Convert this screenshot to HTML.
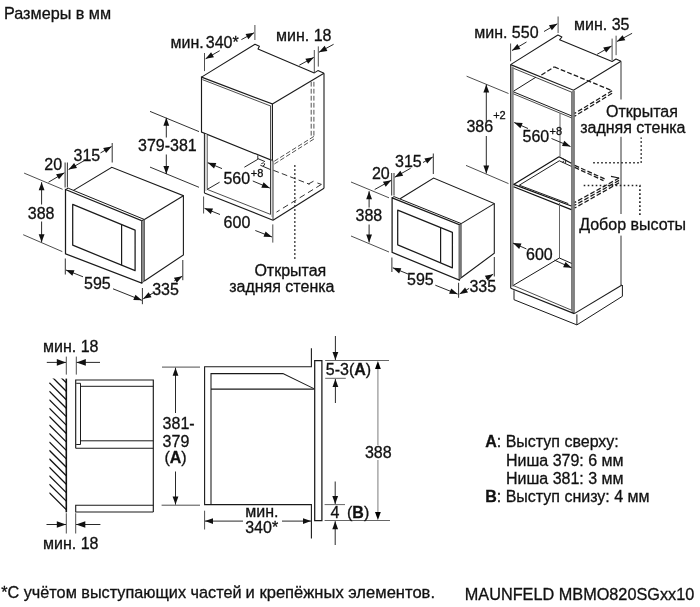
<!DOCTYPE html>
<html><head><meta charset="utf-8"><title>Размеры</title>
<style>
html,body{margin:0;padding:0;background:#fff;}
body{width:700px;height:607px;overflow:hidden;font-family:"Liberation Sans",sans-serif;}
svg{display:block;will-change:transform;transform:translateZ(0);}
svg text{font-family:"Liberation Sans",sans-serif;stroke:#111;stroke-width:0.3px;}
</style></head><body>
<svg width="700" height="607" viewBox="0 0 700 607">
<rect width="700" height="607" fill="#fff"/>
<text x="4.0" y="19.2" font-size="16.2" text-anchor="start" font-weight="normal" fill="#111">Размеры в мм</text>
<polygon points="65.5,189.5 141.7,220.6 141.7,283.2 65.5,253.8" fill="none" stroke="#1a1a1a" stroke-width="1.25" stroke-linejoin="miter"/>
<line x1="143.0" y1="220.2" x2="143.0" y2="282.0" stroke="#8c8c8c" stroke-width="2.7" stroke-linecap="butt"/>
<polyline points="65.5,189.5 68.2,188.2 144.4,219.5 141.7,220.6" fill="none" stroke="#1a1a1a" stroke-width="1.0" stroke-linejoin="miter"/>
<polyline points="144.4,219.5 144.4,281.0 141.7,283.2" fill="none" stroke="#3a3a3a" stroke-width="0.8" stroke-linejoin="miter"/>
<polyline points="73.5,190.4 111.8,167.3 183.4,195.7 183.4,255.0 144.4,281.0" fill="none" stroke="#1a1a1a" stroke-width="1.1" stroke-linejoin="miter"/>
<line x1="183.4" y1="195.7" x2="144.4" y2="219.5" stroke="#1a1a1a" stroke-width="1.1" stroke-linecap="butt"/>
<polygon points="72.7,204.4 135.1,230.1 135.1,270.7 72.7,245.2" fill="none" stroke="#1a1a1a" stroke-width="1.25" stroke-linejoin="round"/>
<line x1="121.6" y1="224.5" x2="121.6" y2="265.2" stroke="#1a1a1a" stroke-width="1.2" stroke-linecap="butt"/>
<line x1="65.1" y1="162.5" x2="65.1" y2="187.5" stroke="#1a1a1a" stroke-width="0.9" stroke-linecap="butt"/>
<line x1="67.4" y1="162.5" x2="67.4" y2="187.5" stroke="#1a1a1a" stroke-width="0.9" stroke-linecap="butt"/>
<line x1="48.5" y1="182.2" x2="64.4" y2="172.8" stroke="#111" stroke-width="0.9" stroke-linecap="butt"/>
<polygon points="64.40,172.80 58.99,179.37 56.04,174.37" fill="#111" stroke="none"/>
<line x1="86.6" y1="159.3" x2="68.6" y2="169.5" stroke="#111" stroke-width="0.9" stroke-linecap="butt"/>
<polygon points="68.60,169.50 74.13,163.03 76.99,168.08" fill="#111" stroke="none"/>
<line x1="112.2" y1="143.0" x2="112.2" y2="162.5" stroke="#1a1a1a" stroke-width="0.9" stroke-linecap="butt"/>
<line x1="100.5" y1="152.9" x2="111.6" y2="146.6" stroke="#111" stroke-width="0.9" stroke-linecap="butt"/>
<polygon points="111.60,146.60 106.07,153.07 103.21,148.03" fill="#111" stroke="none"/>
<text x="44.3" y="170.0" font-size="16" text-anchor="start" font-weight="normal" fill="#111">20</text>
<text x="73.5" y="161.4" font-size="16" text-anchor="start" font-weight="normal" fill="#111">315</text>
<line x1="24.1" y1="173.1" x2="62.6" y2="189.3" stroke="#3a3a3a" stroke-width="0.9" stroke-linecap="butt"/>
<line x1="23.2" y1="234.7" x2="62.3" y2="251.6" stroke="#3a3a3a" stroke-width="0.9" stroke-linecap="butt"/>
<line x1="41.6" y1="204.5" x2="41.6" y2="182.2" stroke="#111" stroke-width="0.9" stroke-linecap="butt"/>
<polygon points="41.60,182.20 44.50,190.20 38.70,190.20" fill="#111" stroke="none"/>
<line x1="41.6" y1="221.5" x2="41.6" y2="242.2" stroke="#111" stroke-width="0.9" stroke-linecap="butt"/>
<polygon points="41.60,242.20 38.70,234.20 44.50,234.20" fill="#111" stroke="none"/>
<text x="27.8" y="219.3" font-size="16" text-anchor="start" font-weight="normal" fill="#111">388</text>
<line x1="65.3" y1="258.5" x2="65.3" y2="274.5" stroke="#1a1a1a" stroke-width="0.9" stroke-linecap="butt"/>
<line x1="142.4" y1="288.0" x2="142.4" y2="304.2" stroke="#1a1a1a" stroke-width="0.9" stroke-linecap="butt"/>
<line x1="83.0" y1="276.8" x2="66.0" y2="270.0" stroke="#111" stroke-width="0.9" stroke-linecap="butt"/>
<polygon points="66.00,270.00 74.50,270.28 72.35,275.66" fill="#111" stroke="none"/>
<line x1="113.0" y1="288.8" x2="141.8" y2="300.3" stroke="#111" stroke-width="0.9" stroke-linecap="butt"/>
<polygon points="141.80,300.30 133.29,300.03 135.45,294.64" fill="#111" stroke="none"/>
<text x="84.0" y="289.0" font-size="16" text-anchor="start" font-weight="normal" fill="#111">595</text>
<line x1="153.0" y1="293.0" x2="143.2" y2="298.8" stroke="#111" stroke-width="0.9" stroke-linecap="butt"/>
<polygon points="143.20,298.80 148.61,292.23 151.56,297.22" fill="#111" stroke="none"/>
<line x1="174.3" y1="280.8" x2="182.3" y2="276.2" stroke="#111" stroke-width="0.9" stroke-linecap="butt"/>
<polygon points="182.30,276.20 176.81,282.70 173.92,277.67" fill="#111" stroke="none"/>
<line x1="182.8" y1="260.0" x2="182.8" y2="280.2" stroke="#1a1a1a" stroke-width="0.9" stroke-linecap="butt"/>
<text x="152.2" y="295.2" font-size="16" text-anchor="start" font-weight="normal" fill="#111">335</text>
<line x1="150.0" y1="111.4" x2="199.0" y2="131.6" stroke="#1a1a1a" stroke-width="0.9" stroke-linecap="butt"/>
<line x1="150.0" y1="167.1" x2="199.0" y2="187.3" stroke="#1a1a1a" stroke-width="0.9" stroke-linecap="butt"/>
<line x1="166.3" y1="137.5" x2="166.3" y2="117.8" stroke="#111" stroke-width="0.9" stroke-linecap="butt"/>
<polygon points="166.30,117.80 169.20,125.80 163.40,125.80" fill="#111" stroke="none"/>
<line x1="166.3" y1="154.5" x2="166.3" y2="174.0" stroke="#111" stroke-width="0.9" stroke-linecap="butt"/>
<polygon points="166.30,174.00 163.40,166.00 169.20,166.00" fill="#111" stroke="none"/>
<text x="138.0" y="151.2" font-size="16" text-anchor="start" font-weight="normal" fill="#111">379-381</text>
<polyline points="201.5,77.1 255.0,44.3 259.4,46.3 258.0,48.9 314.3,72.9 317.9,70.6 324.0,73.2" fill="none" stroke="#1a1a1a" stroke-width="1.1" stroke-linejoin="round"/>
<polygon points="201.5,77.1 272.4,104.0 272.4,160.6 201.5,132.1" fill="none" stroke="#1a1a1a" stroke-width="1.15" stroke-linejoin="miter"/>
<line x1="202.4" y1="79.6" x2="270.6" y2="106.0" stroke="#3a3a3a" stroke-width="0.9" stroke-linecap="butt"/>
<line x1="270.5" y1="105.6" x2="270.5" y2="159.8" stroke="#3a3a3a" stroke-width="0.9" stroke-linecap="butt"/>
<line x1="272.4" y1="104.0" x2="324.0" y2="73.2" stroke="#1a1a1a" stroke-width="1.1" stroke-linecap="butt"/>
<line x1="324.0" y1="73.2" x2="324.0" y2="188.2" stroke="#1a1a1a" stroke-width="1.1" stroke-linecap="butt"/>
<line x1="204.4" y1="133.4" x2="204.4" y2="193.0" stroke="#1a1a1a" stroke-width="1.0" stroke-linecap="butt"/>
<line x1="207.2" y1="134.6" x2="207.2" y2="189.4" stroke="#3a3a3a" stroke-width="0.9" stroke-linecap="butt"/>
<line x1="205.8" y1="134.0" x2="205.8" y2="191.0" stroke="#d2d2d2" stroke-width="1.6" stroke-linecap="butt"/>
<line x1="204.4" y1="193.0" x2="273.0" y2="220.2" stroke="#1a1a1a" stroke-width="1.1" stroke-linecap="butt"/>
<line x1="207.2" y1="189.4" x2="270.5" y2="214.4" stroke="#3a3a3a" stroke-width="0.9" stroke-linecap="butt"/>
<line x1="207.2" y1="189.4" x2="219.6" y2="182.2" stroke="#1a1a1a" stroke-width="0.95" stroke-linecap="butt"/>
<line x1="271.8" y1="160.4" x2="271.8" y2="217.0" stroke="#d2d2d2" stroke-width="1.3" stroke-linecap="butt"/>
<line x1="273.0" y1="160.6" x2="273.0" y2="220.2" stroke="#3a3a3a" stroke-width="1.0" stroke-linecap="butt"/>
<line x1="270.5" y1="159.8" x2="270.5" y2="214.4" stroke="#3a3a3a" stroke-width="1.0" stroke-linecap="butt"/>
<line x1="273.0" y1="220.2" x2="324.0" y2="188.2" stroke="#1a1a1a" stroke-width="1.1" stroke-linecap="butt"/>
<polyline points="257.8,155.3 257.8,159.3 244.4,167.2" fill="none" stroke="#1a1a1a" stroke-width="0.95" stroke-linejoin="miter"/>
<polyline points="257.8,158.6 265.0,161.6" fill="none" stroke="#1a1a1a" stroke-width="0.95" stroke-linejoin="miter"/>
<line x1="260.3" y1="165.2" x2="270.5" y2="169.6" stroke="#1a1a1a" stroke-width="0.95" stroke-linecap="butt"/>
<path d="M261.3,163.6 q2.6,-1.6 3.4,0.2 q0.2,1.8 -1.8,1.9" fill="none" stroke="#1a1a1a" stroke-width="0.9"/>
<line x1="311.2" y1="81.8" x2="311.2" y2="136.4" stroke="#4a4a4a" stroke-width="0.95" stroke-dasharray="4.8 2.2" stroke-linecap="butt"/>
<line x1="313.9" y1="81.8" x2="313.9" y2="136.4" stroke="#4a4a4a" stroke-width="0.95" stroke-dasharray="4.8 2.2" stroke-linecap="butt"/>
<line x1="313.9" y1="136.4" x2="274.0" y2="161.4" stroke="#4a4a4a" stroke-width="0.95" stroke-dasharray="4.8 2.2" stroke-linecap="butt"/>
<line x1="313.9" y1="139.0" x2="274.0" y2="164.2" stroke="#4a4a4a" stroke-width="0.95" stroke-dasharray="4.8 2.2" stroke-linecap="butt"/>
<line x1="273.4" y1="170.3" x2="309.6" y2="184.3" stroke="#333" stroke-width="1.0" stroke-dasharray="5.8 3.2" stroke-linecap="butt"/>
<line x1="308.4" y1="184.0" x2="313.5" y2="181.2" stroke="#333" stroke-width="1.0" stroke-linecap="butt"/>
<line x1="317.4" y1="183.0" x2="321.4" y2="184.4" stroke="#333" stroke-width="1.0" stroke-linecap="butt"/>
<line x1="321.4" y1="184.4" x2="276.5" y2="212.1" stroke="#333" stroke-width="1.0" stroke-dasharray="6 3.8" stroke-linecap="butt"/>
<line x1="294.8" y1="165.2" x2="294.8" y2="259.5" stroke="#222" stroke-width="1.6" stroke-dasharray="1.6 2.4" stroke-linecap="butt"/>
<line x1="204.5" y1="53.0" x2="204.5" y2="71.1" stroke="#3a3a3a" stroke-width="0.9" stroke-linecap="butt"/>
<line x1="254.9" y1="25.0" x2="254.9" y2="40.0" stroke="#3a3a3a" stroke-width="0.9" stroke-linecap="butt"/>
<line x1="219.7" y1="50.7" x2="205.6" y2="58.8" stroke="#111" stroke-width="0.9" stroke-linecap="butt"/>
<polygon points="205.60,58.80 211.09,52.30 213.98,57.33" fill="#111" stroke="none"/>
<line x1="241.4" y1="39.6" x2="254.0" y2="32.8" stroke="#111" stroke-width="0.9" stroke-linecap="butt"/>
<polygon points="254.00,32.80 248.34,39.15 245.58,34.05" fill="#111" stroke="none"/>
<text x="170.6" y="47.6" font-size="16" text-anchor="start" font-weight="normal" fill="#111">мин.</text>
<text x="205.8" y="47.6" font-size="16" text-anchor="start" font-weight="normal" fill="#111">340*</text>
<line x1="314.3" y1="50.0" x2="314.3" y2="72.0" stroke="#3a3a3a" stroke-width="0.9" stroke-linecap="butt"/>
<line x1="318.3" y1="46.4" x2="318.3" y2="66.6" stroke="#3a3a3a" stroke-width="0.9" stroke-linecap="butt"/>
<line x1="299.3" y1="65.2" x2="313.8" y2="57.4" stroke="#111" stroke-width="0.9" stroke-linecap="butt"/>
<polygon points="313.80,57.40 308.13,63.74 305.38,58.64" fill="#111" stroke="none"/>
<line x1="333.6" y1="44.3" x2="319.0" y2="52.2" stroke="#111" stroke-width="0.9" stroke-linecap="butt"/>
<polygon points="319.00,52.20 324.66,45.84 327.42,50.94" fill="#111" stroke="none"/>
<text x="276.0" y="41.0" font-size="16" text-anchor="start" font-weight="normal" fill="#111">мин. 18</text>
<line x1="222.0" y1="168.6" x2="207.8" y2="162.7" stroke="#111" stroke-width="0.9" stroke-linecap="butt"/>
<polygon points="207.80,162.70 216.30,163.09 214.07,168.45" fill="#111" stroke="none"/>
<line x1="252.8" y1="181.0" x2="269.8" y2="188.1" stroke="#111" stroke-width="0.9" stroke-linecap="butt"/>
<polygon points="269.80,188.10 261.30,187.69 263.54,182.34" fill="#111" stroke="none"/>
<text x="223.4" y="183.6" font-size="16" text-anchor="start" font-weight="normal" fill="#111">560</text>
<text x="250.8" y="177.4" font-size="11" text-anchor="start" font-weight="normal" fill="#111">+8</text>
<line x1="203.6" y1="196.5" x2="203.6" y2="213.5" stroke="#3a3a3a" stroke-width="0.9" stroke-linecap="butt"/>
<line x1="272.8" y1="224.4" x2="272.8" y2="242.6" stroke="#3a3a3a" stroke-width="0.9" stroke-linecap="butt"/>
<line x1="220.0" y1="214.5" x2="204.5" y2="208.3" stroke="#111" stroke-width="0.9" stroke-linecap="butt"/>
<polygon points="204.50,208.30 213.00,208.58 210.85,213.96" fill="#111" stroke="none"/>
<line x1="255.3" y1="230.5" x2="272.0" y2="237.0" stroke="#111" stroke-width="0.9" stroke-linecap="butt"/>
<polygon points="272.00,237.00 263.49,236.80 265.60,231.40" fill="#111" stroke="none"/>
<text x="223.6" y="228.4" font-size="16" text-anchor="start" font-weight="normal" fill="#111">600</text>
<text x="254.4" y="276.2" font-size="16" text-anchor="start" font-weight="normal" fill="#111">Открытая</text>
<text x="229.2" y="291.6" font-size="16" text-anchor="start" font-weight="normal" fill="#111">задняя стенка</text>
<polygon points="392.1,197.9 459.3,224.7 459.3,280.0 392.1,252.4" fill="none" stroke="#1a1a1a" stroke-width="1.25" stroke-linejoin="miter"/>
<line x1="460.2" y1="224.3" x2="460.2" y2="278.8" stroke="#8c8c8c" stroke-width="1.9" stroke-linecap="butt"/>
<polyline points="392.1,197.9 394.0,196.6 461.2,223.6 459.3,224.7" fill="none" stroke="#1a1a1a" stroke-width="1.0" stroke-linejoin="miter"/>
<polyline points="461.2,223.6 461.2,277.8 459.3,280.0" fill="none" stroke="#3a3a3a" stroke-width="0.8" stroke-linejoin="miter"/>
<polyline points="400.1,198.8 433.6,178.0 494.3,203.6 494.3,253.2 461.2,277.8" fill="none" stroke="#1a1a1a" stroke-width="1.1" stroke-linejoin="miter"/>
<line x1="494.3" y1="203.6" x2="461.2" y2="223.6" stroke="#1a1a1a" stroke-width="1.1" stroke-linecap="butt"/>
<polygon points="397.7,210.2 452.4,232.4 452.4,267.8 397.7,244.8" fill="none" stroke="#1a1a1a" stroke-width="1.25" stroke-linejoin="round"/>
<line x1="440.6" y1="227.6" x2="440.6" y2="262.8" stroke="#1a1a1a" stroke-width="1.2" stroke-linecap="butt"/>
<line x1="391.7" y1="173.0" x2="391.7" y2="195.5" stroke="#1a1a1a" stroke-width="0.9" stroke-linecap="butt"/>
<line x1="394.0" y1="173.0" x2="394.0" y2="195.5" stroke="#1a1a1a" stroke-width="0.9" stroke-linecap="butt"/>
<line x1="374.7" y1="189.5" x2="391.3" y2="180.3" stroke="#111" stroke-width="0.9" stroke-linecap="butt"/>
<polygon points="391.30,180.30 385.71,186.71 382.90,181.64" fill="#111" stroke="none"/>
<line x1="410.6" y1="168.3" x2="394.8" y2="177.2" stroke="#111" stroke-width="0.9" stroke-linecap="butt"/>
<polygon points="394.80,177.20 400.35,170.75 403.19,175.80" fill="#111" stroke="none"/>
<line x1="433.3" y1="153.5" x2="433.3" y2="174.0" stroke="#1a1a1a" stroke-width="0.9" stroke-linecap="butt"/>
<line x1="423.0" y1="162.5" x2="432.8" y2="157.0" stroke="#111" stroke-width="0.9" stroke-linecap="butt"/>
<polygon points="432.80,157.00 427.24,163.44 424.40,158.39" fill="#111" stroke="none"/>
<text x="371.9" y="178.5" font-size="16" text-anchor="start" font-weight="normal" fill="#111">20</text>
<text x="395.0" y="167.0" font-size="16" text-anchor="start" font-weight="normal" fill="#111">315</text>
<line x1="351.0" y1="182.0" x2="389.0" y2="197.8" stroke="#3a3a3a" stroke-width="0.9" stroke-linecap="butt"/>
<line x1="351.0" y1="236.0" x2="389.0" y2="252.0" stroke="#3a3a3a" stroke-width="0.9" stroke-linecap="butt"/>
<line x1="369.1" y1="207.5" x2="369.1" y2="191.2" stroke="#111" stroke-width="0.9" stroke-linecap="butt"/>
<polygon points="369.10,191.20 372.00,199.20 366.20,199.20" fill="#111" stroke="none"/>
<line x1="369.1" y1="224.5" x2="369.1" y2="242.5" stroke="#111" stroke-width="0.9" stroke-linecap="butt"/>
<polygon points="369.10,242.50 366.20,234.50 372.00,234.50" fill="#111" stroke="none"/>
<text x="355.5" y="221.2" font-size="16" text-anchor="start" font-weight="normal" fill="#111">388</text>
<line x1="391.9" y1="257.5" x2="391.9" y2="272.0" stroke="#1a1a1a" stroke-width="0.9" stroke-linecap="butt"/>
<line x1="458.6" y1="282.8" x2="458.6" y2="297.8" stroke="#1a1a1a" stroke-width="0.9" stroke-linecap="butt"/>
<line x1="408.0" y1="274.0" x2="392.8" y2="267.8" stroke="#111" stroke-width="0.9" stroke-linecap="butt"/>
<polygon points="392.80,267.80 401.30,268.14 399.11,273.51" fill="#111" stroke="none"/>
<line x1="435.3" y1="285.2" x2="457.6" y2="294.1" stroke="#111" stroke-width="0.9" stroke-linecap="butt"/>
<polygon points="457.60,294.10 449.09,293.83 451.24,288.44" fill="#111" stroke="none"/>
<text x="407.0" y="285.3" font-size="16" text-anchor="start" font-weight="normal" fill="#111">595</text>
<line x1="469.1" y1="288.4" x2="459.6" y2="293.9" stroke="#111" stroke-width="0.9" stroke-linecap="butt"/>
<polygon points="459.60,293.90 465.07,287.38 467.98,292.40" fill="#111" stroke="none"/>
<line x1="485.8" y1="278.5" x2="493.2" y2="274.2" stroke="#111" stroke-width="0.9" stroke-linecap="butt"/>
<polygon points="493.20,274.20 487.74,280.73 484.83,275.71" fill="#111" stroke="none"/>
<line x1="494.3" y1="257.0" x2="494.3" y2="276.5" stroke="#1a1a1a" stroke-width="0.9" stroke-linecap="butt"/>
<text x="469.4" y="292.4" font-size="16" text-anchor="start" font-weight="normal" fill="#111">335</text>
<polyline points="510.6,64.6 557.9,35.0 561.9,37.0 559.6,39.8 612.1,61.5 616.0,59.0 621.0,61.2" fill="none" stroke="#1a1a1a" stroke-width="1.1" stroke-linejoin="round"/>
<polyline points="510.6,64.6 573.5,90.2 621.0,61.3" fill="none" stroke="#1a1a1a" stroke-width="1.15" stroke-linejoin="miter"/>
<line x1="512.8" y1="68.0" x2="571.7" y2="92.2" stroke="#3a3a3a" stroke-width="0.95" stroke-linecap="butt"/>
<line x1="512.6" y1="66.5" x2="512.6" y2="286.5" stroke="#8a8a8a" stroke-width="2.2" stroke-linecap="butt"/>
<line x1="510.7" y1="64.6" x2="510.7" y2="288.3" stroke="#1a1a1a" stroke-width="1.1" stroke-linecap="butt"/>
<line x1="573.0" y1="91.0" x2="573.0" y2="313.0" stroke="#8a8a8a" stroke-width="2.9" stroke-linecap="butt"/>
<line x1="574.3" y1="90.6" x2="574.3" y2="313.6" stroke="#3a3a3a" stroke-width="0.6" stroke-linecap="butt"/>
<line x1="571.6" y1="92.0" x2="571.6" y2="310.2" stroke="#3a3a3a" stroke-width="0.6" stroke-linecap="butt"/>
<line x1="621.0" y1="61.3" x2="621.0" y2="99.5" stroke="#333" stroke-width="1.0" stroke-linecap="butt"/>
<line x1="621.0" y1="136.8" x2="621.0" y2="214.0" stroke="#333" stroke-width="1.0" stroke-linecap="butt"/>
<line x1="621.0" y1="235.6" x2="621.0" y2="285.0" stroke="#333" stroke-width="1.0" stroke-linecap="butt"/>
<line x1="513.3" y1="91.8" x2="571.6" y2="115.9" stroke="#1a1a1a" stroke-width="1.0" stroke-linecap="butt"/>
<line x1="513.3" y1="93.8" x2="571.6" y2="117.9" stroke="#3a3a3a" stroke-width="0.9" stroke-linecap="butt"/>
<line x1="513.8" y1="91.0" x2="535.9" y2="77.2" stroke="#1a1a1a" stroke-width="1.0" stroke-linecap="butt"/>
<line x1="541.4" y1="75.0" x2="554.3" y2="66.9" stroke="#1c1c1c" stroke-width="1.3" stroke-dasharray="4.8 2.2" stroke-linecap="butt"/>
<line x1="554.3" y1="66.9" x2="612.1" y2="90.7" stroke="#1c1c1c" stroke-width="1.3" stroke-dasharray="4.8 2.2" stroke-linecap="butt"/>
<line x1="612.1" y1="90.7" x2="574.6" y2="113.4" stroke="#1c1c1c" stroke-width="1.3" stroke-dasharray="4.8 2.2" stroke-linecap="butt"/>
<line x1="612.1" y1="93.3" x2="574.6" y2="116.2" stroke="#1c1c1c" stroke-width="1.3" stroke-dasharray="4.8 2.2" stroke-linecap="butt"/>
<line x1="560.0" y1="113.2" x2="560.0" y2="156.5" stroke="#666" stroke-width="1.0" stroke-linecap="butt"/>
<line x1="513.6" y1="184.4" x2="571.3" y2="206.0" stroke="#111" stroke-width="1.2" stroke-linecap="butt"/>
<line x1="513.6" y1="186.7" x2="571.3" y2="209.6" stroke="#111" stroke-width="1.2" stroke-linecap="butt"/>
<line x1="519.3" y1="185.2" x2="568.3" y2="203.6" stroke="#222" stroke-width="1.0" stroke-linecap="butt"/>
<line x1="513.6" y1="184.4" x2="559.0" y2="156.7" stroke="#111" stroke-width="1.2" stroke-linecap="butt"/>
<line x1="519.3" y1="185.2" x2="559.3" y2="160.8" stroke="#222" stroke-width="1.0" stroke-linecap="butt"/>
<line x1="559.0" y1="156.7" x2="571.3" y2="163.2" stroke="#111" stroke-width="1.2" stroke-linecap="butt"/>
<line x1="559.3" y1="160.8" x2="571.3" y2="166.3" stroke="#222" stroke-width="1.0" stroke-linecap="butt"/>
<path d="M562.0,158.4 l3.6,1.6 l0,3.2 m-1.4,-2.2 q-1.8,0.2 -1.4,2.0" fill="none" stroke="#1a1a1a" stroke-width="0.9"/>
<line x1="574.7" y1="165.4" x2="604.6" y2="178.9" stroke="#1c1c1c" stroke-width="1.3" stroke-dasharray="4.8 2.2" stroke-linecap="butt"/>
<line x1="574.7" y1="167.4" x2="603.5" y2="180.6" stroke="#1c1c1c" stroke-width="1.3" stroke-dasharray="4.8 2.2" stroke-linecap="butt"/>
<line x1="619.1" y1="178.0" x2="574.7" y2="202.5" stroke="#1c1c1c" stroke-width="1.3" stroke-dasharray="4.8 2.2" stroke-linecap="butt"/>
<line x1="619.1" y1="180.4" x2="574.7" y2="205.2" stroke="#1c1c1c" stroke-width="1.3" stroke-dasharray="4.8 2.2" stroke-linecap="butt"/>
<line x1="619.1" y1="182.8" x2="574.7" y2="208.0" stroke="#1c1c1c" stroke-width="1.3" stroke-dasharray="4.8 2.2" stroke-linecap="butt"/>
<line x1="611.0" y1="176.4" x2="619.1" y2="178.0" stroke="#1c1c1c" stroke-width="1.2" stroke-linecap="butt"/>
<line x1="559.5" y1="203.0" x2="559.5" y2="258.0" stroke="#666" stroke-width="1.0" stroke-linecap="butt"/>
<line x1="513.3" y1="285.4" x2="559.4" y2="258.0" stroke="#1a1a1a" stroke-width="1.0" stroke-linecap="butt"/>
<line x1="559.4" y1="258.0" x2="571.6" y2="263.4" stroke="#1a1a1a" stroke-width="1.0" stroke-linecap="butt"/>
<line x1="510.7" y1="288.3" x2="574.3" y2="313.6" stroke="#1a1a1a" stroke-width="1.15" stroke-linecap="butt"/>
<line x1="513.3" y1="285.5" x2="571.6" y2="310.2" stroke="#3a3a3a" stroke-width="0.9" stroke-linecap="butt"/>
<line x1="574.3" y1="313.6" x2="622.0" y2="285.0" stroke="#1a1a1a" stroke-width="1.1" stroke-linecap="butt"/>
<polyline points="514.0,290.3 514.0,299.7 576.9,324.9 622.4,296.3 622.4,285.0" fill="none" stroke="#1a1a1a" stroke-width="1.0" stroke-linejoin="miter"/>
<line x1="576.9" y1="314.4" x2="576.9" y2="324.9" stroke="#1a1a1a" stroke-width="1.0" stroke-linecap="butt"/>
<polyline points="593.2,162.8 641.2,162.8 641.2,137.6" fill="none" stroke="#222" stroke-width="1.6" stroke-dasharray="1.6 2.4" stroke-linejoin="miter"/>
<polyline points="583.7,185.5 639.9,185.5 639.9,215.6" fill="none" stroke="#222" stroke-width="1.6" stroke-dasharray="1.6 2.4" stroke-linejoin="miter"/>
<line x1="510.6" y1="43.5" x2="510.6" y2="61.3" stroke="#3a3a3a" stroke-width="0.9" stroke-linecap="butt"/>
<line x1="558.1" y1="16.5" x2="558.1" y2="33.0" stroke="#3a3a3a" stroke-width="0.9" stroke-linecap="butt"/>
<line x1="526.5" y1="42.0" x2="512.0" y2="50.5" stroke="#111" stroke-width="0.9" stroke-linecap="butt"/>
<polygon points="512.00,50.50 517.43,43.95 520.37,48.96" fill="#111" stroke="none"/>
<line x1="544.0" y1="31.5" x2="557.3" y2="23.8" stroke="#111" stroke-width="0.9" stroke-linecap="butt"/>
<polygon points="557.30,23.80 551.83,30.32 548.92,25.30" fill="#111" stroke="none"/>
<text x="474.2" y="38.0" font-size="16" text-anchor="start" font-weight="normal" fill="#111">мин. 550</text>
<line x1="612.1" y1="38.6" x2="612.1" y2="60.2" stroke="#3a3a3a" stroke-width="0.9" stroke-linecap="butt"/>
<line x1="616.1" y1="35.7" x2="616.1" y2="55.2" stroke="#3a3a3a" stroke-width="0.9" stroke-linecap="butt"/>
<line x1="597.1" y1="54.3" x2="611.6" y2="46.0" stroke="#111" stroke-width="0.9" stroke-linecap="butt"/>
<polygon points="611.60,46.00 606.10,52.49 603.22,47.46" fill="#111" stroke="none"/>
<line x1="632.1" y1="33.3" x2="616.9" y2="41.5" stroke="#111" stroke-width="0.9" stroke-linecap="butt"/>
<polygon points="616.90,41.50 622.56,35.15 625.32,40.25" fill="#111" stroke="none"/>
<text x="574.0" y="30.3" font-size="16" text-anchor="start" font-weight="normal" fill="#111">мин. 35</text>
<line x1="466.6" y1="76.2" x2="508.5" y2="93.5" stroke="#3a3a3a" stroke-width="0.9" stroke-linecap="butt"/>
<line x1="466.0" y1="165.4" x2="508.5" y2="183.6" stroke="#3a3a3a" stroke-width="0.9" stroke-linecap="butt"/>
<line x1="486.3" y1="121.5" x2="486.3" y2="84.6" stroke="#111" stroke-width="0.9" stroke-linecap="butt"/>
<polygon points="486.30,84.60 489.20,92.60 483.40,92.60" fill="#111" stroke="none"/>
<line x1="486.3" y1="136.0" x2="486.3" y2="173.4" stroke="#111" stroke-width="0.9" stroke-linecap="butt"/>
<polygon points="486.30,173.40 483.40,165.40 489.20,165.40" fill="#111" stroke="none"/>
<text x="466.4" y="131.6" font-size="16" text-anchor="start" font-weight="normal" fill="#111">386</text>
<text x="493.2" y="119.3" font-size="11" text-anchor="start" font-weight="normal" fill="#111">+2</text>
<line x1="528.0" y1="128.5" x2="514.2" y2="122.5" stroke="#111" stroke-width="0.9" stroke-linecap="butt"/>
<polygon points="514.20,122.50 522.69,123.03 520.38,128.35" fill="#111" stroke="none"/>
<line x1="551.5" y1="138.5" x2="570.5" y2="146.5" stroke="#111" stroke-width="0.9" stroke-linecap="butt"/>
<polygon points="570.50,146.50 562.00,146.07 564.25,140.72" fill="#111" stroke="none"/>
<text x="522.5" y="141.5" font-size="16" text-anchor="start" font-weight="normal" fill="#111">560</text>
<text x="549.5" y="135.0" font-size="11" text-anchor="start" font-weight="normal" fill="#111">+8</text>
<line x1="526.4" y1="248.9" x2="513.0" y2="243.1" stroke="#111" stroke-width="0.9" stroke-linecap="butt"/>
<polygon points="513.00,243.10 521.49,243.62 519.19,248.94" fill="#111" stroke="none"/>
<line x1="554.4" y1="260.1" x2="571.6" y2="267.8" stroke="#111" stroke-width="0.9" stroke-linecap="butt"/>
<polygon points="571.60,267.80 563.11,267.18 565.48,261.88" fill="#111" stroke="none"/>
<text x="526.0" y="260.0" font-size="16" text-anchor="start" font-weight="normal" fill="#111">600</text>
<text x="606.0" y="116.6" font-size="16" text-anchor="start" font-weight="normal" fill="#111">Открытая</text>
<text x="580.2" y="133.0" font-size="16" text-anchor="start" font-weight="normal" fill="#111">задняя стенка</text>
<text x="579.2" y="230.0" font-size="16" text-anchor="start" font-weight="normal" fill="#111">Добор высоты</text>
<line x1="66.3" y1="378.6" x2="66.3" y2="512.3" stroke="#111" stroke-width="1.6" stroke-linecap="butt"/>
<clipPath id="hc"><rect x="49.3" y="378.4" width="17" height="133.9"/></clipPath>
<g clip-path="url(#hc)">
<line x1="49.3" y1="340.4" x2="66.3" y2="357.4" stroke="#111" stroke-width="1.3" stroke-linecap="butt"/>
<line x1="49.3" y1="348.9" x2="66.3" y2="365.9" stroke="#111" stroke-width="1.3" stroke-linecap="butt"/>
<line x1="49.3" y1="357.4" x2="66.3" y2="374.4" stroke="#111" stroke-width="1.3" stroke-linecap="butt"/>
<line x1="49.3" y1="365.8" x2="66.3" y2="382.8" stroke="#111" stroke-width="1.3" stroke-linecap="butt"/>
<line x1="49.3" y1="374.2" x2="66.3" y2="391.2" stroke="#111" stroke-width="1.3" stroke-linecap="butt"/>
<line x1="49.3" y1="382.7" x2="66.3" y2="399.7" stroke="#111" stroke-width="1.3" stroke-linecap="butt"/>
<line x1="49.3" y1="391.2" x2="66.3" y2="408.2" stroke="#111" stroke-width="1.3" stroke-linecap="butt"/>
<line x1="49.3" y1="399.6" x2="66.3" y2="416.6" stroke="#111" stroke-width="1.3" stroke-linecap="butt"/>
<line x1="49.3" y1="408.1" x2="66.3" y2="425.1" stroke="#111" stroke-width="1.3" stroke-linecap="butt"/>
<line x1="49.3" y1="416.5" x2="66.3" y2="433.5" stroke="#111" stroke-width="1.3" stroke-linecap="butt"/>
<line x1="49.3" y1="424.9" x2="66.3" y2="441.9" stroke="#111" stroke-width="1.3" stroke-linecap="butt"/>
<line x1="49.3" y1="433.4" x2="66.3" y2="450.4" stroke="#111" stroke-width="1.3" stroke-linecap="butt"/>
<line x1="49.3" y1="441.9" x2="66.3" y2="458.9" stroke="#111" stroke-width="1.3" stroke-linecap="butt"/>
<line x1="49.3" y1="450.3" x2="66.3" y2="467.3" stroke="#111" stroke-width="1.3" stroke-linecap="butt"/>
<line x1="49.3" y1="458.8" x2="66.3" y2="475.8" stroke="#111" stroke-width="1.3" stroke-linecap="butt"/>
<line x1="49.3" y1="467.2" x2="66.3" y2="484.2" stroke="#111" stroke-width="1.3" stroke-linecap="butt"/>
<line x1="49.3" y1="475.6" x2="66.3" y2="492.6" stroke="#111" stroke-width="1.3" stroke-linecap="butt"/>
<line x1="49.3" y1="484.1" x2="66.3" y2="501.1" stroke="#111" stroke-width="1.3" stroke-linecap="butt"/>
<line x1="49.3" y1="492.6" x2="66.3" y2="509.6" stroke="#111" stroke-width="1.3" stroke-linecap="butt"/>
</g>
<polyline points="75.7,448.2 75.7,380.0 153.3,380.0 153.3,512.0" fill="none" stroke="#1a1a1a" stroke-width="1.15" stroke-linejoin="miter"/>
<line x1="80.5" y1="386.3" x2="153.3" y2="386.3" stroke="#1a1a1a" stroke-width="1.0" stroke-linecap="butt"/>
<polyline points="76.2,383.3 80.5,383.3 80.5,444.5 76.2,444.5" fill="none" stroke="#1a1a1a" stroke-width="1.0" stroke-linejoin="miter"/>
<line x1="80.5" y1="440.8" x2="153.3" y2="440.8" stroke="#1a1a1a" stroke-width="1.0" stroke-linecap="butt"/>
<line x1="75.7" y1="448.2" x2="153.3" y2="448.2" stroke="#1a1a1a" stroke-width="1.1" stroke-linecap="butt"/>
<polyline points="153.3,505.2 75.7,505.2 75.7,512.0 153.3,512.0" fill="none" stroke="#1a1a1a" stroke-width="1.1" stroke-linejoin="miter"/>
<line x1="66.3" y1="356.6" x2="66.3" y2="374.6" stroke="#3a3a3a" stroke-width="0.9" stroke-linecap="butt"/>
<line x1="76.3" y1="356.6" x2="76.3" y2="374.6" stroke="#3a3a3a" stroke-width="0.9" stroke-linecap="butt"/>
<line x1="46.8" y1="362.4" x2="66.0" y2="362.4" stroke="#111" stroke-width="0.9" stroke-linecap="butt"/>
<polygon points="66.00,362.40 56.80,365.70 56.80,359.10" fill="#111" stroke="none"/>
<line x1="100.0" y1="362.4" x2="76.6" y2="362.4" stroke="#111" stroke-width="0.9" stroke-linecap="butt"/>
<polygon points="76.60,362.40 85.80,359.10 85.80,365.70" fill="#111" stroke="none"/>
<text x="43.0" y="351.5" font-size="16" text-anchor="start" font-weight="normal" fill="#111">мин. 18</text>
<line x1="66.3" y1="513.2" x2="66.3" y2="533.5" stroke="#3a3a3a" stroke-width="0.9" stroke-linecap="butt"/>
<line x1="75.7" y1="513.2" x2="75.7" y2="533.5" stroke="#3a3a3a" stroke-width="0.9" stroke-linecap="butt"/>
<line x1="46.5" y1="524.5" x2="66.0" y2="524.5" stroke="#111" stroke-width="0.9" stroke-linecap="butt"/>
<polygon points="66.00,524.50 56.80,527.80 56.80,521.20" fill="#111" stroke="none"/>
<line x1="100.4" y1="524.5" x2="76.1" y2="524.5" stroke="#111" stroke-width="0.9" stroke-linecap="butt"/>
<polygon points="76.10,524.50 85.30,521.20 85.30,527.80" fill="#111" stroke="none"/>
<text x="43.0" y="548.5" font-size="16" text-anchor="start" font-weight="normal" fill="#111">мин. 18</text>
<line x1="162.0" y1="367.1" x2="200.0" y2="367.1" stroke="#3a3a3a" stroke-width="0.9" stroke-linecap="butt"/>
<line x1="161.6" y1="505.2" x2="200.0" y2="505.2" stroke="#3a3a3a" stroke-width="0.9" stroke-linecap="butt"/>
<line x1="175.5" y1="413.0" x2="175.5" y2="367.7" stroke="#111" stroke-width="0.9" stroke-linecap="butt"/>
<polygon points="175.50,367.70 178.40,375.70 172.60,375.70" fill="#111" stroke="none"/>
<line x1="175.5" y1="471.5" x2="175.5" y2="504.6" stroke="#111" stroke-width="0.9" stroke-linecap="butt"/>
<polygon points="175.50,504.60 172.60,496.60 178.40,496.60" fill="#111" stroke="none"/>
<text x="162.6" y="428.6" font-size="16" text-anchor="start" font-weight="normal" fill="#111">381-</text>
<text x="162.6" y="446.5" font-size="16" text-anchor="start" font-weight="normal" fill="#111">379</text>
<text x="164.4" y="463.1" font-size="16" fill="#111">(<tspan font-weight="bold">A</tspan>)</text>
<polyline points="311.4,348.2 311.4,366.7 204.6,366.7 204.6,504.6 311.4,504.6 311.4,538.5" fill="none" stroke="#1a1a1a" stroke-width="1.1" stroke-linejoin="miter"/>
<polyline points="313.9,388.6 282.9,373.6 211.0,373.6 211.0,504.6" fill="none" stroke="#1a1a1a" stroke-width="1.05" stroke-linejoin="miter"/>
<line x1="211.0" y1="389.1" x2="313.9" y2="389.1" stroke="#1a1a1a" stroke-width="1.05" stroke-linecap="butt"/>
<polygon points="314.7,360.6 321.9,360.6 321.9,520.5 314.7,520.5" fill="none" stroke="#1a1a1a" stroke-width="1.25" stroke-linejoin="miter"/>
<line x1="325.2" y1="360.5" x2="389.0" y2="360.5" stroke="#555" stroke-width="0.9" stroke-linecap="butt"/>
<line x1="324.6" y1="520.5" x2="390.0" y2="520.5" stroke="#555" stroke-width="0.9" stroke-linecap="butt"/>
<line x1="377.9" y1="444.9" x2="377.9" y2="366.0" stroke="#9a9a9a" stroke-width="1.3" stroke-linecap="butt"/>
<line x1="377.9" y1="460.0" x2="377.9" y2="515.0" stroke="#9a9a9a" stroke-width="1.3" stroke-linecap="butt"/>
<polygon points="377.90,361.00 380.80,369.00 375.00,369.00" fill="#000" stroke="none"/>
<polygon points="377.90,520.00 375.00,512.00 380.80,512.00" fill="#000" stroke="none"/>
<text x="364.9" y="458.1" font-size="16" text-anchor="start" font-weight="normal" fill="#111">388</text>
<line x1="335.4" y1="336.0" x2="335.4" y2="360.0" stroke="#111" stroke-width="0.9" stroke-linecap="butt"/>
<polygon points="335.40,360.00 332.50,352.00 338.30,352.00" fill="#111" stroke="none"/>
<line x1="335.4" y1="403.0" x2="335.4" y2="378.9" stroke="#111" stroke-width="0.9" stroke-linecap="butt"/>
<polygon points="335.40,378.90 338.30,386.90 332.50,386.90" fill="#111" stroke="none"/>
<line x1="325.2" y1="378.3" x2="345.8" y2="378.3" stroke="#555" stroke-width="0.9" stroke-linecap="butt"/>
<text x="325.8" y="375" font-size="16" fill="#111">5-3(<tspan font-weight="bold">A</tspan>)</text>
<line x1="335.2" y1="481.5" x2="335.2" y2="504.1" stroke="#111" stroke-width="0.9" stroke-linecap="butt"/>
<polygon points="335.20,504.10 332.30,496.10 338.10,496.10" fill="#111" stroke="none"/>
<line x1="335.2" y1="545.0" x2="335.2" y2="521.2" stroke="#111" stroke-width="0.9" stroke-linecap="butt"/>
<polygon points="335.20,521.20 338.10,529.20 332.30,529.20" fill="#111" stroke="none"/>
<line x1="324.6" y1="504.6" x2="345.0" y2="504.6" stroke="#555" stroke-width="0.9" stroke-linecap="butt"/>
<text x="330.6" y="518" font-size="16" fill="#111">4<tspan x="347">(</tspan><tspan font-weight="bold">B</tspan>)</text>
<line x1="204.6" y1="510.7" x2="204.6" y2="529.5" stroke="#3a3a3a" stroke-width="0.9" stroke-linecap="butt"/>
<line x1="243.0" y1="521.1" x2="205.0" y2="521.1" stroke="#111" stroke-width="0.9" stroke-linecap="butt"/>
<polygon points="205.00,521.10 213.00,518.20 213.00,524.00" fill="#111" stroke="none"/>
<line x1="282.0" y1="521.1" x2="311.0" y2="521.1" stroke="#111" stroke-width="0.9" stroke-linecap="butt"/>
<polygon points="311.00,521.10 303.00,524.00 303.00,518.20" fill="#111" stroke="none"/>
<text x="245.2" y="516.6" font-size="16" text-anchor="start" font-weight="normal" fill="#111">мин.</text>
<text x="245.2" y="532.5" font-size="16" text-anchor="start" font-weight="normal" fill="#111">340*</text>
<text x="485.2" y="447.2" font-size="16" fill="#111"><tspan font-weight="bold">A</tspan>: Выступ сверху:</text>
<text x="506.0" y="465.7" font-size="16" text-anchor="start" font-weight="normal" fill="#111">Ниша 379: 6 мм</text>
<text x="506.0" y="484.0" font-size="16" text-anchor="start" font-weight="normal" fill="#111">Ниша 381: 3 мм</text>
<text x="485.2" y="502.2" font-size="16" fill="#111"><tspan font-weight="bold">B</tspan>: Выступ снизу: 4 мм</text>
<text x="1.2" y="598.4" font-size="16.3" text-anchor="start" font-weight="normal" fill="#111" textLength="240.3" lengthAdjust="spacingAndGlyphs">*С учётом выступающих частей</text>
<text x="245.6" y="598.4" font-size="16.3" text-anchor="start" font-weight="normal" fill="#111" textLength="189.4" lengthAdjust="spacingAndGlyphs">и крепёжных элементов.</text>
<text x="464.8" y="600.2" font-size="16.3" text-anchor="start" font-weight="normal" fill="#111" textLength="229.5" lengthAdjust="spacingAndGlyphs">MAUNFELD MBMO820SGxx10</text>
</svg>
</body></html>
